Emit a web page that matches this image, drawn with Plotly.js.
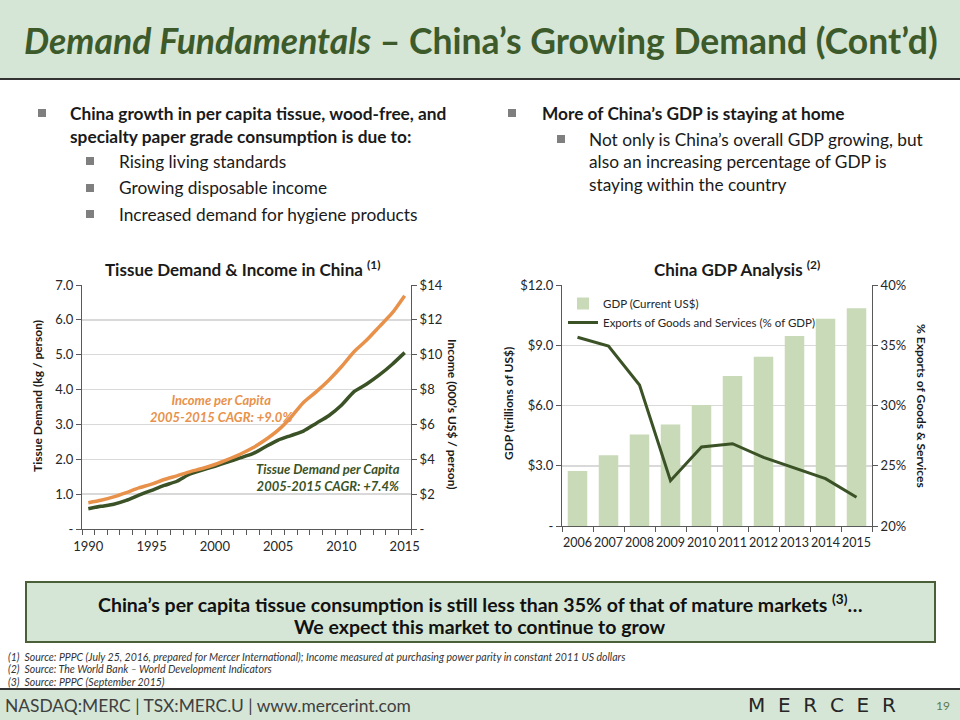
<!DOCTYPE html>
<html>
<head>
<meta charset="utf-8">
<script src="https://cdn.plot.ly/plotly-3.0.1.min.js"></script>
<style>
  html, body { margin: 0; padding: 0; background: #ffffff; }
  #chart { width: 960px; height: 720px; }
</style>
</head>
<body>
<div id="chart"></div>
<script>
// ---------------- DATA ----------------
const tissueYears = [1990, 1991, 1992, 1993, 1994, 1995, 1996, 1997, 1998, 1999, 2000, 2001, 2002,
                     2003, 2004, 2005, 2006, 2007, 2008, 2009, 2010, 2011, 2012, 2013, 2014, 2015];
// Tissue demand, kg / person (left axis)
const tissueDemand = [0.58, 0.65, 0.71, 0.82, 0.97, 1.11, 1.25, 1.37, 1.57, 1.69, 1.80, 1.92, 2.04,
                      2.16, 2.36, 2.55, 2.68, 2.81, 3.03, 3.25, 3.55, 3.94, 4.16, 4.42, 4.72, 5.06];
// Income per capita, 000's US$ / person (right axis)
const incomePerCapita = [1.51, 1.65, 1.84, 2.09, 2.36, 2.57, 2.84, 3.05, 3.28, 3.47, 3.70, 3.98, 4.29,
                         4.66, 5.12, 5.67, 6.40, 7.26, 7.87, 8.54, 9.31, 10.17, 10.84, 11.61, 12.38, 13.39];
const tissueXTicks = [1990, 1995, 2000, 2005, 2010, 2015];
const tissueYTickVals = [0, 1, 2, 3, 4, 5, 6, 7];
const tissueYTickText = ['-', '1.0', '2.0', '3.0', '4.0', '5.0', '6.0', '7.0'];
const incomeTickVals = [0, 2, 4, 6, 8, 10, 12, 14];
const incomeTickText = ['-', '$2', '$4', '$6', '$8', '$10', '$12', '$14'];

const gdpYears = [2006, 2007, 2008, 2009, 2010, 2011, 2012, 2013, 2014, 2015];
// GDP, trillions of current US$ (left axis)
const gdpTrillions = [2.74, 3.52, 4.56, 5.06, 6.02, 7.47, 8.43, 9.46, 10.32, 10.84];
// Exports of goods and services, % of GDP (right axis)
const exportsPct = [35.66, 34.94, 31.70, 23.76, 26.56, 26.83, 25.70, 24.79, 23.93, 22.38];
const gdpTickVals = [0, 3, 6, 9, 12];
const gdpTickText = ['-', '$3.0', '$6.0', '$9.0', '$12.0'];
const pctTickVals = [20, 25, 30, 35, 40];
const pctTickText = ['20%', '25%', '30%', '35%', '40%'];

// ---------------- STYLE ----------------
const FONT = 'Lato, "Open Sans", "Noto Sans", sans-serif';
const GREEN_BG = '#d5e6d6';
const TITLE_GREEN = '#3d5a2b';
const DARK_GREEN = '#3a5226';
const ORANGE = '#e8914a';
const BAR_GREEN = '#c8dab8';
const GRID = '#d9d9d9';
const AXIS = '#595959';
const TEXT = '#1a1a1a';

const X = px => px / 960;
const Y = py => 1 - py / 720;

const traces = [
  {
    x: tissueYears, y: tissueDemand, xaxis: 'x', yaxis: 'y', type: 'scatter', mode: 'lines',
    line: { color: DARK_GREEN, width: 3.5, shape: 'spline', smoothing: 0.6 },
    showlegend: false, name: 'Tissue Demand per Capita'
  },
  {
    x: tissueYears, y: incomePerCapita, xaxis: 'x', yaxis: 'y2', type: 'scatter', mode: 'lines',
    line: { color: ORANGE, width: 3.5, shape: 'spline', smoothing: 0.6 },
    showlegend: false, name: 'Income per Capita'
  },
  {
    x: gdpYears, y: gdpTrillions, xaxis: 'x2', yaxis: 'y3', type: 'bar',
    marker: { color: BAR_GREEN }, width: 0.63, name: 'GDP (Current US$)'
  },
  {
    x: gdpYears, y: exportsPct, xaxis: 'x2', yaxis: 'y4', type: 'scatter', mode: 'lines',
    line: { color: DARK_GREEN, width: 3 }, name: 'Exports of Goods and Services (% of GDP)'
  }
];

const tickFont = { family: FONT, size: 13, color: '#262626' };

const yBase = {
  showline: true, linecolor: AXIS, linewidth: 1,
  ticks: 'outside', ticklen: 5, tickcolor: AXIS, tickwidth: 1,
  tickfont: tickFont, zeroline: false, fixedrange: true, tickmode: 'array'
};

const layout = {
  width: 960, height: 720,
  margin: { l: 0, r: 0, t: 0, b: 0 },
  paper_bgcolor: '#ffffff', plot_bgcolor: 'rgba(0,0,0,0)',
  font: { family: FONT, color: TEXT },
  xaxis: {
    domain: [X(82), X(411)], anchor: 'y', range: [1989.5, 2015.5],
    tickmode: 'array', tickvals: tissueXTicks, ticks: 'outside', ticklen: 5,
    tickcolor: 'rgba(0,0,0,0)', tickfont: tickFont, tickangle: 0,
    showline: true, linecolor: AXIS, linewidth: 1, showgrid: false, zeroline: false,
    minor: { tick0: 1989.5, dtick: 1, ticks: 'outside', ticklen: 5, tickcolor: AXIS, showgrid: false }
  },
  yaxis: Object.assign({}, yBase, {
    domain: [Y(529), Y(285)], anchor: 'x', range: [0, 7],
    tickvals: tissueYTickVals, ticktext: tissueYTickText,
    showgrid: true, gridcolor: GRID, gridwidth: 1.5
  }),
  yaxis2: Object.assign({}, yBase, {
    overlaying: 'y', side: 'right', anchor: 'x', range: [0, 14],
    tickvals: incomeTickVals, ticktext: incomeTickText, showgrid: false
  }),
  xaxis2: {
    domain: [X(562), X(872)], anchor: 'y3', range: [2005.5, 2015.5],
    tickmode: 'array', tickvals: gdpYears, ticks: 'outside', ticklen: 5,
    tickcolor: 'rgba(0,0,0,0)', tickfont: { family: FONT, size: 12.5, color: '#262626' }, tickangle: 0,
    showline: true, linecolor: AXIS, linewidth: 1, showgrid: false, zeroline: false,
    minor: { tick0: 2005.5, dtick: 1, ticks: 'outside', ticklen: 5, tickcolor: AXIS, showgrid: false }
  },
  yaxis3: Object.assign({}, yBase, {
    domain: [Y(526), Y(285)], anchor: 'x2', range: [0, 12],
    tickvals: gdpTickVals, ticktext: gdpTickText,
    showgrid: true, gridcolor: GRID, gridwidth: 1.5
  }),
  yaxis4: Object.assign({}, yBase, {
    overlaying: 'y3', side: 'right', anchor: 'x2', range: [20, 40],
    tickvals: pctTickVals, ticktext: pctTickText, showgrid: false
  }),
  showlegend: true,
  legend: {
    x: X(563), y: Y(289), xanchor: 'left', yanchor: 'top',
    bgcolor: 'rgba(0,0,0,0)', font: { family: FONT, size: 11.5, color: '#262626' },
    tracegroupgap: 0, itemwidth: 30
  },
  shapes: [
    // title bar
    { type: 'rect', xref: 'paper', yref: 'paper', x0: 0, x1: 1, y0: Y(78), y1: Y(0),
      fillcolor: GREEN_BG, line: { width: 0 }, layer: 'below' },
    { type: 'line', xref: 'paper', yref: 'paper', x0: 0, x1: 1, y0: Y(79), y1: Y(79),
      line: { color: '#333333', width: 2 } },
    // footer bar
    { type: 'rect', xref: 'paper', yref: 'paper', x0: 0, x1: 1, y0: Y(720), y1: Y(690),
      fillcolor: GREEN_BG, line: { width: 0 }, layer: 'below' },
    { type: 'line', xref: 'paper', yref: 'paper', x0: 0, x1: 1, y0: Y(689), y1: Y(689),
      line: { color: '#333333', width: 2 } },
    // conclusion box
    { type: 'rect', xref: 'paper', yref: 'paper', x0: X(26), x1: X(935), y0: Y(642), y1: Y(582),
      fillcolor: GREEN_BG, line: { color: '#4a5e38', width: 2 }, layer: 'below' },
    // bullets
    { type: 'rect', xref: 'paper', yref: 'paper', x0: X(38), x1: X(46), y0: Y(117), y1: Y(109),
      fillcolor: '#7f7f7f', line: { width: 0 } },
    { type: 'rect', xref: 'paper', yref: 'paper', x0: X(86), x1: X(94), y0: Y(165), y1: Y(157),
      fillcolor: '#7f7f7f', line: { width: 0 } },
    { type: 'rect', xref: 'paper', yref: 'paper', x0: X(86), x1: X(94), y0: Y(192), y1: Y(184),
      fillcolor: '#7f7f7f', line: { width: 0 } },
    { type: 'rect', xref: 'paper', yref: 'paper', x0: X(86), x1: X(94), y0: Y(218), y1: Y(210),
      fillcolor: '#7f7f7f', line: { width: 0 } },
    { type: 'rect', xref: 'paper', yref: 'paper', x0: X(508), x1: X(516), y0: Y(117), y1: Y(109),
      fillcolor: '#7f7f7f', line: { width: 0 } },
    { type: 'rect', xref: 'paper', yref: 'paper', x0: X(557), x1: X(565), y0: Y(143), y1: Y(135),
      fillcolor: '#7f7f7f', line: { width: 0 } }
  ],
  annotations: []
};

function ann(text, x, y, opts) {
  return Object.assign({
    text: text, xref: 'paper', yref: 'paper', x: X(x), y: Y(y),
    showarrow: false, xanchor: 'left', yanchor: 'middle', align: 'left',
    font: { family: FONT, size: 16, color: TEXT }
  }, opts || {});
}

const BODY = { family: FONT, size: 17.3, color: TEXT };

layout.annotations.push(
  ann('<b><i>Demand Fundamentals</i> – China’s Growing Demand (Cont’d)</b>', 481, 40,
      { xanchor: 'center', align: 'center', font: { family: FONT, size: 35.5, color: TITLE_GREEN } }),
  ann('<b>China growth in per capita tissue, wood-free, and</b>', 68, 113, { font: BODY }),
  ann('<b>specialty paper grade consumption is due to:</b>', 68, 136, { font: BODY }),
  ann('Rising living standards', 117, 161, { font: BODY }),
  ann('Growing disposable income', 117, 188, { font: BODY }),
  ann('Increased demand for hygiene products', 117, 214, { font: BODY }),
  ann('<b>More of China’s GDP is staying at home</b>', 540, 113, { font: BODY }),
  ann('Not only is China’s overall GDP growing, but', 587, 139, { font: BODY }),
  ann('also an increasing percentage of GDP is', 587, 162, { font: BODY }),
  ann('staying within the country', 587, 184, { font: BODY }),
  // chart titles
  ann('<b>Tissue Demand &amp; Income in China <sup>(1)</sup></b>', 242, 268,
      { xanchor: 'center', align: 'center', font: { family: FONT, size: 17, color: TEXT } }),
  ann('<b>China GDP Analysis <sup>(2)</sup></b>', 737, 268,
      { xanchor: 'center', align: 'center', font: { family: FONT, size: 17, color: TEXT } }),
  // axis titles
  ann('<b>Tissue Demand (kg / person)</b>', 37, 396,
      { xanchor: 'center', textangle: -90, font: { family: FONT, size: 12, color: TEXT } }),
  ann('<b>Income (000’s US$ / person)</b>', 452, 414,
      { xanchor: 'center', textangle: 90, font: { family: FONT, size: 12, color: TEXT } }),
  ann('<b>GDP (trillions of US$)</b>', 508, 404,
      { xanchor: 'center', textangle: -90, font: { family: FONT, size: 12, color: TEXT } }),
  ann('<b>% Exports of Goods &amp; Services</b>', 922, 406,
      { xanchor: 'center', textangle: 90, font: { family: FONT, size: 12, color: TEXT } }),
  // in-chart labels
  ann('<b><i>Income per Capita<br>2005-2015 CAGR: +9.0%</i></b>', 221, 408,
      { xanchor: 'center', align: 'center', font: { family: FONT, size: 13, color: ORANGE } }),
  ann('<b><i>Tissue Demand per Capita<br>2005-2015 CAGR: +7.4%</i></b>', 328, 477,
      { xanchor: 'center', align: 'center', font: { family: FONT, size: 13, color: DARK_GREEN } }),
  // conclusion
  ann('<b>China’s per capita tissue consumption is still less than 35% of that of mature markets <sup>(3)</sup>…</b>', 480, 603,
      { xanchor: 'center', align: 'center', font: { family: FONT, size: 19.5, color: '#111111' } }),
  ann('<b>We expect this market to continue to grow</b>', 480, 626,
      { xanchor: 'center', align: 'center', font: { family: FONT, size: 19.5, color: '#111111' } }),
  // footnotes
  ann('<i>(1)  Source: PPPC (July 25, 2016, prepared for Mercer International); Income measured at purchasing power parity in constant 2011 US dollars</i>', 6, 657,
      { font: { family: FONT, size: 10.5, color: '#333333' } }),
  ann('<i>(2)  Source: The World Bank – World Development Indicators</i>', 6, 669,
      { font: { family: FONT, size: 10.5, color: '#333333' } }),
  ann('<i>(3)  Source: PPPC (September 2015)</i>', 6, 682,
      { font: { family: FONT, size: 10.5, color: '#333333' } }),
  // footer
  ann('NASDAQ:MERC | TSX:MERC.U | www.mercerint.com', 3, 705,
      { font: { family: FONT, size: 17.4, color: '#404040' } }),
  ann('M\u00a0\u00a0E\u00a0\u00a0R\u00a0\u00a0C\u00a0\u00a0E\u00a0\u00a0R', 822, 705,
      { xanchor: 'center', align: 'center', font: { family: '"DejaVu Sans", sans-serif', size: 20, color: '#262626' } }),
  ann('19', 943, 705,
      { xanchor: 'center', align: 'center', font: { family: FONT, size: 12, color: '#5f7a50' } })
);

Plotly.newPlot('chart', traces, layout, { staticPlot: true, displayModeBar: false });
</script>
</body>
</html>
